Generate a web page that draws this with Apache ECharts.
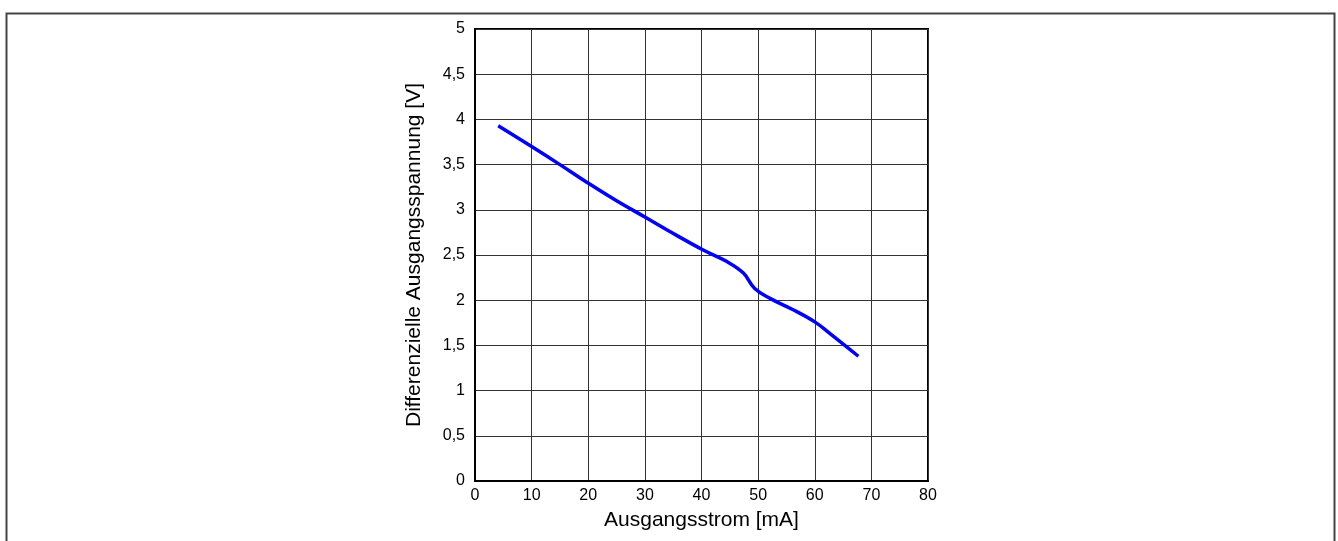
<!DOCTYPE html>
<html>
<head>
<meta charset="utf-8">
<script src="https://cdn.jsdelivr.net/npm/echarts@6/dist/echarts.min.js"></script>
<style>
  html, body { margin: 0; padding: 0; background: #fff; }
  #main { width: 1338px; height: 541px; }
</style>
</head>
<body>
<div id="main"></div>
<script>
// Ausgangsstrom [mA] / differenzielle Ausgangsspannung [V]
var stromWerte = [4.1, 10.0, 15.0, 20.1, 25.0, 30.0, 34.4, 40.3, 44.4, 47.4, 49.4, 52.1, 56.0, 60.0, 62.7, 67.7];
var spannungWerte = [3.93, 3.70, 3.50, 3.29, 3.10, 2.92, 2.76, 2.555, 2.43, 2.30, 2.13, 2.02, 1.90, 1.76, 1.63, 1.38];

var xTitel = 'Ausgangsstrom [mA]';
var yTitel = 'Differenzielle Ausgangsspannung [V]';

var kurve = [];
for (var i = 0; i < stromWerte.length; i++) {
	kurve.push([stromWerte[i], spannungWerte[i]]);
}

var fontName = 'Liberation Sans, Arial, sans-serif';

var opt = {
	animation: false,
	backgroundColor: '#fff',
	graphic: [{
		type: 'rect',
		z: -10,
		shape: { x: 6.5, y: 13.5, width: 1328, height: 600 },
		style: { fill: '#fff', stroke: '#444', lineWidth: 2 }
	}],
	grid: {
		left: 475, right: 410, top: 29, bottom: 60,
		show: true, borderColor: '#000', borderWidth: 2, backgroundColor: 'transparent'
	},
	xAxis: {
		type: 'value',
		min: 0, max: 80, interval: 10,
		name: xTitel,
		nameLocation: 'middle',
		nameGap: 29,
		nameTextStyle: { fontFamily: fontName, fontSize: 21, color: '#000' },
		axisLine: { show: true, lineStyle: { color: '#000', width: 2 } },
		axisTick: { show: false },
		axisLabel: { fontFamily: fontName, fontSize: 16, color: '#000', margin: 7 },
		splitLine: { show: true, lineStyle: { color: '#333', width: 1 } }
	},
	yAxis: {
		type: 'value',
		min: 0, max: 5, interval: 0.5,
		name: yTitel,
		nameLocation: 'middle',
		nameGap: 50,
		nameRotate: 90,
		nameTextStyle: { fontFamily: fontName, fontSize: 21, color: '#000' },
		axisLine: { show: true, lineStyle: { color: '#000', width: 2 } },
		axisTick: { show: false },
		axisLabel: {
			fontFamily: fontName, fontSize: 16, color: '#000', margin: 10,
			formatter: function (v) { return String(v).replace('.', ','); }
		},
		splitLine: { show: true, lineStyle: { color: '#333', width: 1 } }
	},
	series: [{
		type: 'line',
		data: kurve,
		smooth: 0.4,
		showSymbol: false,
		lineStyle: { color: '#0000ff', width: 3.5 }
	}]
};

var chart = echarts.init(document.getElementById('main'));
chart.setOption(opt);
</script>
</body>
</html>
